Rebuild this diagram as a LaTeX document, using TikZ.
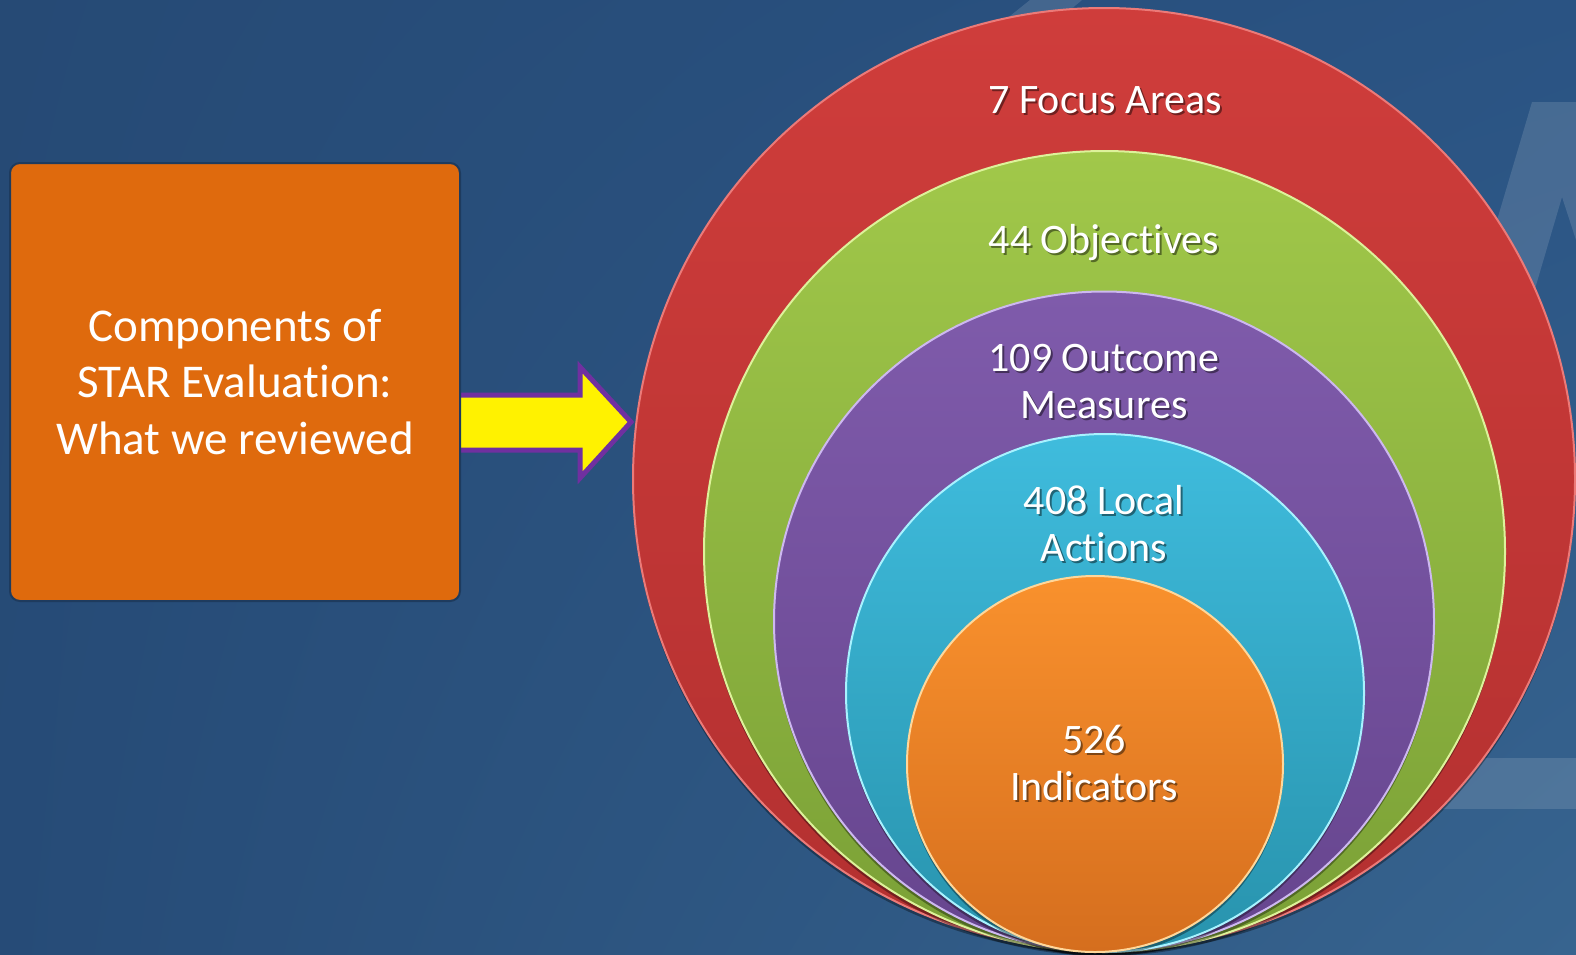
\documentclass[tikz,border=0pt]{standalone}
\usepackage{fontspec}
\setmainfont{Carlito}[RawFeature={-liga;-clig}]
\usetikzlibrary{shadows,shadings}
\definecolor{bgA}{HTML}{264A75}
\definecolor{bgB}{HTML}{2A5383}
\definecolor{bgC}{HTML}{264B77}
\definecolor{bgD}{HTML}{37648F}
\definecolor{redT}{HTML}{CF3D3B}
\definecolor{redB}{HTML}{B33030}
\definecolor{redL}{HTML}{EC7A78}
\definecolor{grnT}{HTML}{A1C84A}
\definecolor{grnB}{HTML}{7AA036}
\definecolor{grnL}{HTML}{DDF29A}
\definecolor{purT}{HTML}{7F5BAB}
\definecolor{purB}{HTML}{66458E}
\definecolor{purL}{HTML}{CDB8F0}
\definecolor{cyaT}{HTML}{3FBCDD}
\definecolor{cyaB}{HTML}{2893AD}
\definecolor{cyaL}{HTML}{A8F2FF}
\definecolor{oraT}{HTML}{F9912D}
\definecolor{oraB}{HTML}{D56E1E}
\definecolor{oraL}{HTML}{FFD79A}
\definecolor{boxF}{HTML}{DF6A0D}
\definecolor{boxB}{HTML}{1E3B5E}
\definecolor{arrP}{HTML}{7030A0}
\newcommand\ringlabel[3]{%
  \node[lbl, text=black, opacity=0.45, xshift=2pt, yshift=-2pt] at #2 {#3};
  \node[lbl] (#1) at #2 {#3};}
\begin{document}
\begin{tikzpicture}[x=1pt,y=-1pt,
  ring/.style n args={3}{circle, inner sep=0pt, minimum size=#1,
    top color=#2T, bottom color=#2B, draw=#2L, line width=2pt,
    drop shadow={shadow xshift=0pt, shadow yshift=-4pt, opacity=0.35, fill=black}},
  lbl/.style={text=white, font=\fontsize{42}{47}\selectfont, align=center, anchor=base},
  wmark/.style={fill=white, opacity=0.13}
]
\useasboundingbox (0,0) rectangle (1576,954);
\shade[upper left=bgA, upper right=bgB, lower left=bgC, lower right=bgD] (0,0) rectangle (1576,954);
% watermark shapes
\fill[wmark] (1005,20) -- (1030,0) -- (1082,0) -- (1058,20) -- cycle;
\fill[wmark] (1532,102) -- (1576,102) -- (1576,240) -- (1562,197) -- (1408,720) -- (1349,720) -- cycle;
\fill[wmark] (1300,758) rectangle (1576,809);
% arrow
\draw[fill=yellow, draw=arrP, line width=5pt, line join=miter]
  (440,395) -- (580,395) -- (580,367) -- (631,422) -- (580,478) -- (580,450) -- (440,450) -- cycle;
% box
\node[draw=boxB, fill=boxF, rounded corners=10pt, line width=2pt, inner sep=0pt,
  minimum width=450pt, minimum height=438pt, text=white, align=center,
  font=\fontsize{47}{56.5}\selectfont] (box) at (235,382)
  {Components of\\STAR Evaluation:\\What we reviewed};
% rings
\node[ring={942pt}{red}{}] (focus) at (1104,479) {};
\node[ring={801pt}{grn}{}] (obj) at (1104.5,551.5) {};
\node[ring={660pt}{pur}{}] (meas) at (1104,621.5) {};
\node[ring={518pt}{cya}{}] (act) at (1105,693) {};
\node[ring={376pt}{ora}{}] (ind) at (1095,764) {};
\ringlabel{tfocus}{(1105,113)}{7 Focus Areas}
\ringlabel{tobj}{(1104,253)}{44 Objectives}
\ringlabel{tmeas}{(1104,418)}{109 Outcome\\Measures}
\ringlabel{tact}{(1104,561)}{408 Local\\Actions}
\ringlabel{tind}{(1094,800)}{526\\Indicators}
\end{tikzpicture}
\end{document}
